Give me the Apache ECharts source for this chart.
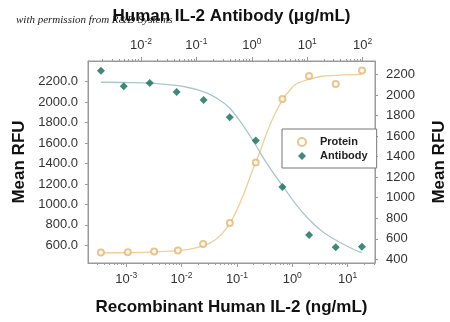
<!DOCTYPE html>
<html>
<head>
<meta charset="utf-8">
<script src="https://cdn.jsdelivr.net/npm/echarts@6/dist/echarts.min.js"></script>
<style>html,body{margin:0;padding:0;background:#fff;}#c{width:450px;height:322px;}</style>
</head>
<body>
<div id="c"></div>
<script>
// Recombinant Human IL-2 (ng/mL) vs Mean RFU
const proteinConc = [0.00035, 0.00107, 0.0032, 0.0086, 0.0245, 0.0745, 0.219, 0.665, 2.01, 6.1, 18.2];
const proteinRFU = [530, 532, 541, 551, 613, 818, 1410, 2030, 2255, 2177, 2307];
// Human IL-2 Antibody (ug/mL) vs Mean RFU
const antibodyConc = [0.0019, 0.0049, 0.0144, 0.044, 0.135, 0.40, 1.18, 3.57, 10.8, 32.6, 97];
const antibodyRFU = [2237, 2086, 2118, 2031, 1953, 1785, 1558, 1104, 637, 517, 523];
// fitted curves
const proteinFitConc = [0.000349, 0.00117, 0.0033, 0.00857, 0.0174, 0.0324, 0.0533, 0.0809, 0.128, 0.186, 0.259, 0.361, 0.504, 0.675, 0.902, 1.156, 1.986, 3.40, 6.10, 10.9, 18.0];
const proteinFitRFU = [528, 530, 537, 549, 574, 622, 710, 847, 1081, 1315, 1510, 1725, 1900, 2027, 2115, 2174, 2222, 2252, 2261, 2268, 2271];
const antibodyFitConc = [0.0019, 0.00634, 0.022, 0.0621, 0.142, 0.265, 0.402, 0.689, 1.18, 1.71, 2.6, 3.62, 6.21, 10.6, 18.2, 32.6, 58.3, 96];
const antibodyFitRFU = [2125, 2122, 2110, 2081, 2028, 1950, 1872, 1707, 1512, 1366, 1220, 1113, 938, 792, 676, 588, 515, 462];
// tick labels
const bottomExps = [-3, -2, -1, 0, 1];
const topExps = [-2, -1, 0, 1, 2];
const leftTicks = [600, 800, 1000, 1200, 1400, 1600, 1800, 2000, 2200];
const rightTicks = [400, 600, 800, 1000, 1200, 1400, 1600, 1800, 2000, 2200];

const bottomRange = [-3.69, 1.495];
const topRange = [-2.955, 2.222];
const leftRange = [428, 2401];
const rightRange = [364, 2332];

function minorTicks(range) {
  const out = [];
  for (let d = Math.floor(range[0]) - 1; d <= Math.ceil(range[1]); d++) {
    for (let k = 2; k <= 9; k++) {
      const v = d + Math.log10(k);
      if (v >= range[0] && v <= range[1]) out.push(v);
    }
  }
  return out;
}
const toPts = (xs, ys) => xs.map((x, i) => [Math.log10(x), ys[i]]);

const FONT = '"Liberation Sans", Arial, sans-serif';
const AX = '#9a9a9a';
const expRich = {
  b: { fontSize: 13, fontFamily: FONT, color: '#333', lineHeight: 16 },
  s: { fontSize: 8.5, fontFamily: FONT, color: '#333', lineHeight: 16, padding: [0, 0, 7, 0] }
};
const expFmt = v => '{b|10}{s|' + Math.round(v) + '}';
const nameStyle = { fontSize: 17, fontWeight: 'bold', fontFamily: FONT, color: '#111' };

function xMain(pos, range, exps, name, gap, margin) {
  return {
    type: 'value', position: pos, min: range[0], max: range[1], z: 3,
    axisLine: { show: true, onZero: false, lineStyle: { color: AX } },
    axisTick: { show: true, customValues: exps, length: 4, lineStyle: { color: AX } },
    axisLabel: { customValues: exps, formatter: expFmt, rich: expRich, margin: margin },
    splitLine: { show: false },
    name: name, nameLocation: 'middle', nameGap: gap, nameTextStyle: nameStyle
  };
}
function xMinor(pos, range) {
  return {
    type: 'value', position: pos, min: range[0], max: range[1],
    axisLine: { show: false, onZero: false },
    axisTick: { show: true, customValues: minorTicks(range), length: 2, lineStyle: { color: AX } },
    axisLabel: { show: false }, splitLine: { show: false }
  };
}
function yAxis(pos, range, ticks, fmt, gap, margin) {
  return {
    type: 'value', position: pos, min: range[0], max: range[1],
    axisLine: { show: true, onZero: false, lineStyle: { color: AX } },
    axisTick: { show: true, customValues: ticks, length: 3, lineStyle: { color: AX } },
    axisLabel: { customValues: ticks, formatter: fmt, fontSize: 13, fontFamily: FONT, color: '#333', margin: margin },
    splitLine: { show: false },
    name: 'Mean RFU', nameLocation: 'middle', nameGap: gap, nameTextStyle: nameStyle
  };
}

const chart = echarts.init(document.getElementById('c'), null, { renderer: 'canvas' });
chart.setOption({
  animation: false,
  backgroundColor: '#fff',
  title: [{
    text: 'with permission from R&D Systems', left: 11, top: 10, z: 1,
    textStyle: { fontSize: 11, fontStyle: 'italic', fontWeight: 'normal', fontFamily: '"Liberation Serif", "DejaVu Serif", serif', color: '#222' }
  }],
  grid: { left: 88, right: 75, top: 61, bottom: 59, show: true, borderColor: AX, borderWidth: 1, backgroundColor: 'transparent',
    containLabel: false, outerBoundsMode: 'none' },
  legend: {
    orient: 'vertical', left: 282, top: 129, data: ['Protein', 'Antibody'],
    itemWidth: 8, itemHeight: 8, itemGap: 2, padding: [7, 9, 6, 15],
    borderColor: '#777', borderWidth: 1, backgroundColor: '#fff',
    textStyle: { fontSize: 11, fontWeight: 'bold', fontFamily: FONT, color: '#222', padding: [0, 0, 0, 9], lineHeight: 12 }
  },
  xAxis: [
    xMain('bottom', bottomRange, bottomExps, 'Recombinant Human IL-2 (ng/mL)', 36, 8),
    xMinor('bottom', bottomRange),
    xMain('top', topRange, topExps, 'Human IL-2 Antibody (\u03bcg/mL)', 36, 8),
    xMinor('top', topRange)
  ],
  yAxis: [
    yAxis('left', leftRange, leftTicks, v => v.toFixed(1), 60, 10),
    yAxis('right', rightRange, rightTicks, v => String(v), 56, 11)
  ],
  series: [
    { name: 'ProteinFit', type: 'line', xAxisIndex: 0, yAxisIndex: 0, data: toPts(proteinFitConc, proteinFitRFU),
      showSymbol: false, symbol: 'none', smooth: 0.35, lineStyle: { color: '#f2cd98', width: 1.3 }, z: 1, silent: true },
    { name: 'AntibodyFit', type: 'line', xAxisIndex: 2, yAxisIndex: 1, data: toPts(antibodyFitConc, antibodyFitRFU),
      showSymbol: false, symbol: 'none', smooth: 0.35, lineStyle: { color: '#a9c6cf', width: 1.3 }, z: 1, silent: true },
    { name: 'Protein', type: 'scatter', xAxisIndex: 0, yAxisIndex: 0, data: toPts(proteinConc, proteinRFU),
      symbol: 'emptyCircle', symbolSize: 6, itemStyle: { color: '#e4b676', borderColor: '#e4b676', borderWidth: 1 }, z: 3 },
    { name: 'Antibody', type: 'scatter', xAxisIndex: 2, yAxisIndex: 1, data: toPts(antibodyConc, antibodyRFU),
      symbol: 'diamond', symbolSize: 8, itemStyle: { color: '#0f6b5a' }, z: 3 }
  ]
});
</script>
</body>
</html>
